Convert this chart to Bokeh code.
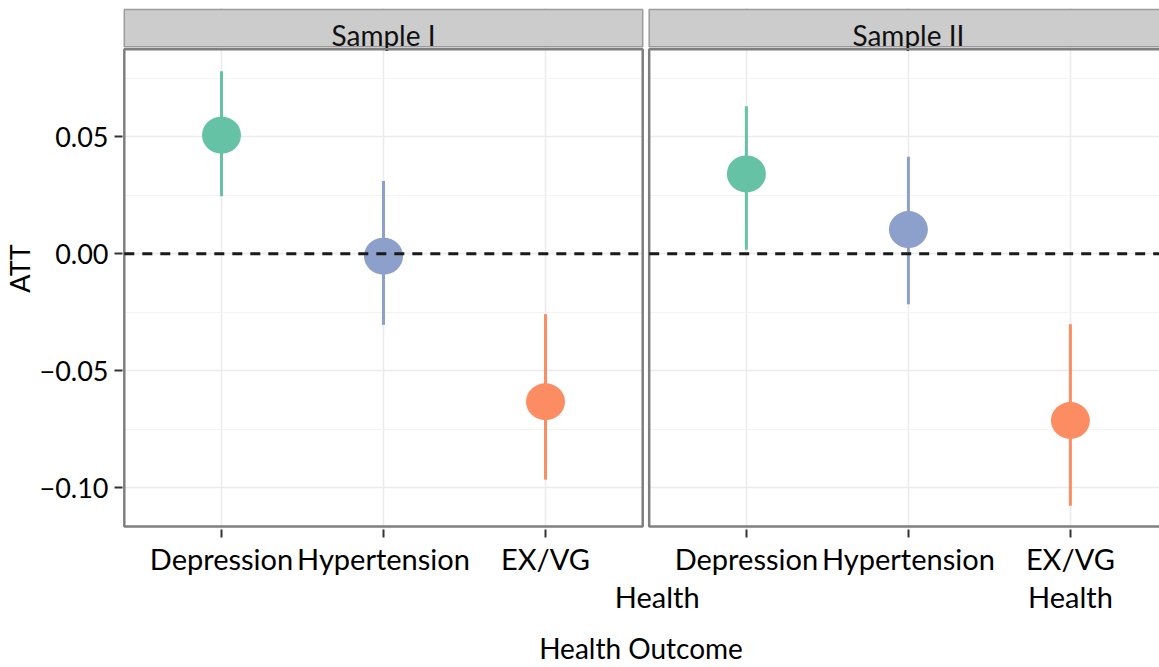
from bokeh.plotting import figure
from bokeh.models import (ColumnDataSource, FixedTicker, CustomJSTickFormatter,
                          LinearAxis, Range1d)
from bokeh.core.properties import value
from bokeh.embed import file_html
from bokeh.resources import INLINE

# ---------------- data ----------------
samples = ["Sample I", "Sample II"]
outcomes = ["Depression", "Hypertension", "EX/VG Health"]
colors = ["#66C2A5", "#8DA0CB", "#FC8D62"]

att_s1 = [0.0508, -0.0010, -0.0633]
lo_s1 = [0.0246, -0.0304, -0.0966]
hi_s1 = [0.0781, 0.0312, -0.0258]

att_s2 = [0.0342, 0.0104, -0.0713]
lo_s2 = [0.0018, -0.0216, -0.1078]
hi_s2 = [0.0632, 0.0416, -0.0301]

y_major = [-0.10, -0.05, 0.00, 0.05]
y_minor = [-0.075, -0.025, 0.025, 0.075]

# ---------------- layout constants ----------------
FONT = "Lato"
SHIFT = 3.24          # horizontal offset of the second facet
EXP = 0.6             # discrete-scale expansion
PANEL_TOP = 0.0875
PANEL_BOT = -0.1167
STRIP_BOT = 0.0886
STRIP_TOP = 0.1046
STRIP_TEXT_Y = 0.0938
STRAY_DX = 0.69       # wrapped second line of facet I's label drifted right

att = [att_s1, att_s2]
lo = [lo_s1, lo_s2]
hi = [hi_s1, hi_s2]

xs, ys, los, his, cols = [], [], [], [], []
line1, line2_x, line2 = [], [], []
for k in range(len(samples)):
    for i, name in enumerate(outcomes):
        x = i + 1 + k * SHIFT
        xs.append(x)
        ys.append(att[k][i])
        los.append(lo[k][i])
        his.append(hi[k][i])
        cols.append(colors[i])
        parts = name.split(" ", 1)
        line1.append(parts[0])
        if len(parts) > 1:
            line2_x.append(x + (STRAY_DX if k == 0 else 0.0))
            line2.append(parts[1])
src = ColumnDataSource(dict(x=xs, y=ys, lo=los, hi=his, c=cols))

n = len(outcomes)
pan_left = [1 - EXP + k * SHIFT for k in range(len(samples))]
pan_right = [n + EXP + k * SHIFT for k in range(len(samples))]
pan_mid = [(a + b) / 2 for a, b in zip(pan_left, pan_right)]
pan_src = ColumnDataSource(dict(l=pan_left, r=pan_right, m=pan_mid, s=samples))

p = figure(width=1159, height=667, output_backend="svg", toolbar_location=None,
           x_range=Range1d(0.3889, 6.790), y_range=Range1d(-0.11795, 0.10541),
           min_border_left=122, min_border_right=0, min_border_top=7,
           min_border_bottom=136)
p.outline_line_color = None
p.background_fill_color = "white"

# grids
p.xgrid.ticker = FixedTicker(ticks=xs)
p.xgrid.grid_line_color = "#EBEBEB"
p.xgrid.grid_line_width = 1.5
p.ygrid.ticker = FixedTicker(ticks=y_major, minor_ticks=y_minor)
p.ygrid.grid_line_color = "#EBEBEB"
p.ygrid.grid_line_width = 1.5
p.ygrid.minor_grid_line_color = "#F3F3F3"
p.ygrid.minor_grid_line_width = 1.2

# white gap between the facets
p.quad(left=pan_right[0], right=pan_left[1], bottom=-1, top=1,
       fill_color="white", line_color=None)

# strips
p.quad(left="l", right="r", bottom=STRIP_BOT, top=STRIP_TOP, source=pan_src,
       fill_color="#CCCCCC", line_color="#9A9A9A", line_width=1.5)
p.text(x="m", y=STRIP_TEXT_Y, text="s", source=pan_src,
       text_font=value(FONT), text_font_size="28px", text_align="center",
       text_baseline="middle", text_color="#111111")

# panel borders
p.quad(left="l", right="r", bottom=PANEL_BOT, top=PANEL_TOP, source=pan_src,
       fill_color=None, line_color="#7F7F7F", line_width=2.5)

# error bars + points
p.segment(x0="x", y0="lo", x1="x", y1="hi", source=src, line_color="c",
          line_width=3)
p.ellipse(x="x", y="y", width=39, height=37, width_units="screen",
          height_units="screen", source=src, fill_color="c", line_color=None)

# zero reference line per facet
p.segment(x0="l", y0=0, x1="r", y1=0, source=pan_src, line_color="#1A1A1A",
          line_width=3, line_dash="10 8")

# axes
p.xaxis.ticker = FixedTicker(ticks=xs)
p.xaxis.formatter = CustomJSTickFormatter(args=dict(labels=line1),
                                          code="return labels[index];")
p.yaxis.ticker = FixedTicker(ticks=y_major, minor_ticks=[])
p.yaxis.formatter = CustomJSTickFormatter(
    code="return tick.toFixed(2).replace('-', '\u2212');")

ax2 = LinearAxis(ticker=FixedTicker(ticks=line2_x, minor_ticks=[]),
                 formatter=CustomJSTickFormatter(args=dict(labels=line2),
                                                 code="return labels[index];"))
p.add_layout(ax2, "below")

for ax in (p.xaxis[0], p.yaxis[0], ax2):
    ax.axis_line_color = None
    ax.major_tick_line_color = "#333333"
    ax.major_tick_line_width = 2
    ax.major_tick_in = 0
    ax.major_tick_out = 8
    ax.minor_tick_line_color = None
    ax.major_label_text_font = FONT
    ax.major_label_text_font_size = "29px"
    ax.major_label_text_color = "#000000"
    ax.axis_label_text_font = FONT
    ax.axis_label_text_font_size = "28px"
    ax.axis_label_text_font_style = "normal"
    ax.axis_label_text_color = "#000000"

p.yaxis.major_label_text_font_size = "27px"
p.yaxis.axis_label_text_font_size = "27px"
p.yaxis.major_label_standoff = 6
p.yaxis.axis_label = "ATT"
p.yaxis.axis_label_standoff = 0

p.xaxis[0].major_label_standoff = 3
ax2.major_tick_out = 0
ax2.major_tick_line_color = None
ax2.major_label_standoff = 0
ax2.axis_label = "Health Outcome"
ax2.axis_label_standoff = 14

open("out.html", "w").write(file_html(p, INLINE))
